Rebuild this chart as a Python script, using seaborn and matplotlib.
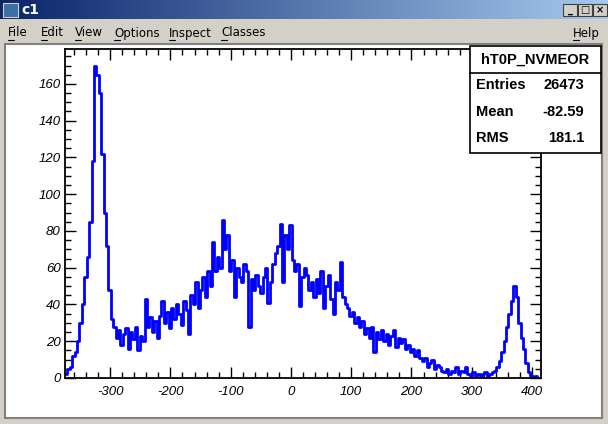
import numpy as np
import pandas as pd
import matplotlib
matplotlib.use("Agg")
import matplotlib.pyplot as plt
from matplotlib.patches import Rectangle
from matplotlib.lines import Line2D
from matplotlib.ticker import MultipleLocator
import seaborn as sns

# histogram hT0P_NVMEOR, 4-unit bins from -375 to 413 (counts)
bin_width = 4
x_first = -375
counts = [
    # -373 .. -297
    2, 5, 6, 12, 14, 20, 30, 40, 55, 66, 85, 118, 170, 165, 155, 122, 90, 72, 48, 32,
    # -293 .. -241
    28, 22, 26, 18, 24, 27, 16, 25, 21, 28, 15, 23, 20, 43,
    # -237 .. -213
    28, 33, 25, 31, 22, 34, 42,
    # -209 .. -173
    30, 36, 27, 38, 32, 40, 35, 29, 42, 37,
    # -169 .. -133
    24, 45, 40, 52, 38, 48, 55, 44, 58, 50,
    # -129 .. -105
    74, 58, 66, 60, 86, 70, 78,
    # -101 .. -53
    58, 64, 44, 60, 55, 52, 62, 58, 28, 54, 48, 56, 50,
    # -49 .. -33
    46, 55, 60, 41, 52,
    # -29 .. -1
    62, 68, 72, 84, 52, 78, 70, 83,
    # 3 .. 35
    64, 58, 62, 39, 55, 60, 56, 48, 52,
    # 39 .. 91
    44, 54, 46, 58, 38, 50, 56, 43, 35, 52, 48, 63, 44, 40,
    # 95 .. 119
    38, 34, 36, 30, 33, 28, 31,
    # 123 .. 191
    24, 27, 22, 28, 14, 25, 21, 26, 20, 24, 18, 23, 26, 17, 22, 19, 21, 16,
    # 195 .. 215
    18, 14, 16, 12, 15, 11,
    # 219 .. 251
    9, 11, 6, 8, 10, 5, 7, 6, 4,
    # 255 .. 291
    3, 5, 2, 4, 3, 6, 2, 4, 3, 6,
    # 295 .. 339
    2, 1, 3, 1, 2, 1, 2, 3, 1, 2, 3, 4,
    # 343 .. 363
    6, 9, 14, 20, 28, 35,
    # 367 .. 379
    42, 50, 44, 30,
    # 383 .. 399
    22, 16, 8, 3, 1,
    # 403 .. 411
    0, 1, 0,
]
edges = [x_first + bin_width * i for i in range(len(counts) + 1)]
centers = [e + bin_width / 2 for e in edges[:-1]]
df = pd.DataFrame({"x": centers, "n": counts})

x_ticks = [-300, -200, -100, 0, 100, 200, 300, 400]
y_ticks = [0, 20, 40, 60, 80, 100, 120, 140, 160]

hist_name = "hT0P_NVMEOR"
stats_labels = ["Entries", "Mean", "RMS"]
stats_values = ["26473", "-82.59", "181.1"]

menu_items = ["File", "Edit", "View", "Options", "Inspect", "Classes"]
menu_x = [8, 41, 75, 114, 169, 221]

sns.set_style("ticks")
plt.rcParams["font.family"] = ["Liberation Sans", "DejaVu Sans"]
plt.rcParams["text.color"] = "black"
plt.rcParams["xtick.color"] = "black"
plt.rcParams["ytick.color"] = "black"
plt.rcParams["axes.edgecolor"] = "black"
plt.rcParams["axes.unicode_minus"] = False

W, H = 608, 424
fig = plt.figure(figsize=(W / 100, H / 100), dpi=100)
fig.patch.set_facecolor("#d4d0c8")


def fx(px):
    return px / W


def fy(py):
    return 1 - py / H


# title bar gradient
ax_t = fig.add_axes([0, fy(19), 1, 19 / H])
grad = np.linspace(0, 1, 256)[None, :]
c0 = np.array([10, 36, 106]) / 255
c1 = np.array([166, 202, 240]) / 255
img = c0[None, None, :] * (1 - grad[..., None]) + c1[None, None, :] * grad[..., None]
ax_t.imshow(img, aspect="auto", extent=[0, 1, 0, 1])
ax_t.set_axis_off()
fig.text(fx(21), fy(10), "c1", color="white", fontsize=10, fontweight="bold",
         va="center", ha="left", family="DejaVu Sans")
fig.patches.append(Rectangle((fx(3), fy(17)), 15 / W, 14 / H, transform=fig.transFigure,
                             fc="#3a6ea5", ec="#d4d0c8", lw=0.8))
# window buttons
for i, glyph in enumerate(["_", "□", "×"]):
    bx = 563 + i * 15
    fig.patches.append(Rectangle((fx(bx), fy(16)), 14 / W, 12 / H, transform=fig.transFigure,
                                 fc="#d4d0c8", ec="#404040", lw=0.8))
    fig.text(fx(bx + 7), fy(10), glyph, fontsize=7, fontweight="bold", ha="center",
             va="center", color="black", family="DejaVu Sans")

# menu bar
for name, mx in zip(menu_items, menu_x):
    fig.text(fx(mx), fy(33), name, fontsize=8.5, ha="left", va="center", family="DejaVu Sans")
    fig.add_artist(Line2D([fx(mx), fx(mx + 6)], [fy(40), fy(40)], color="black", lw=0.8))
fig.text(fx(573), fy(33), "Help", fontsize=8.5, ha="left", va="center", family="DejaVu Sans")
fig.add_artist(Line2D([fx(573), fx(579)], [fy(40), fy(40)], color="black", lw=0.8))

# canvas (behind the axes)
fig.patches.append(Rectangle((fx(5), fy(418)), 597 / W, 374 / H, transform=fig.transFigure,
                             fc="white", ec="#808080", lw=1.5, zorder=-1))

ax = fig.add_axes([fx(65), fy(378), (541 - 65) / W, (378 - 49) / H])
sns.histplot(data=df, x="x", weights="n", bins=edges, element="step", fill=False,
             color="#0000ff", linewidth=2, ax=ax)
ax.set_xlim(-375, 415)
ax.set_ylim(0, 179)
ax.set_xticks(x_ticks, labels=[str(v) for v in x_ticks], fontstyle="italic", fontsize=9.5)
ax.set_yticks(y_ticks, labels=[str(v) for v in y_ticks], fontstyle="italic", fontsize=9.5)
ax.xaxis.set_minor_locator(MultipleLocator(20))
ax.yaxis.set_minor_locator(MultipleLocator(5))
ax.set_xlabel("")
ax.set_ylabel("")
ax.tick_params(which="both", direction="in", top=True, right=True, width=1)
ax.tick_params(which="major", length=8)
ax.tick_params(which="minor", length=4)
ax.tick_params(axis="x", pad=6)
ax.tick_params(axis="y", pad=3)
for sp in ax.spines.values():
    sp.set_linewidth(1.3)
    sp.set_visible(True)
ax.set_facecolor("white")

# stats box
fig.patches.append(Rectangle((fx(470), fy(153)), 131 / W, 107 / H, transform=fig.transFigure,
                             fc="white", ec="black", lw=1.2, zorder=5))
fig.add_artist(Line2D([fx(470), fx(601)], [fy(73), fy(73)], color="black", lw=1.2, zorder=6))
fig.text(fx(535), fy(60), hist_name, fontsize=10.5, fontweight="bold", ha="center", va="center", zorder=7)
for i, (lab, val) in enumerate(zip(stats_labels, stats_values)):
    yy = fy(85 + i * 26.5)
    fig.text(fx(476), yy, lab, fontsize=10.5, fontweight="bold", ha="left", va="center", zorder=7)
    fig.text(fx(584), yy, val, fontsize=10.5, fontweight="bold", ha="right", va="center", zorder=7)

fig.savefig("out.png", dpi=100, facecolor=fig.get_facecolor())
